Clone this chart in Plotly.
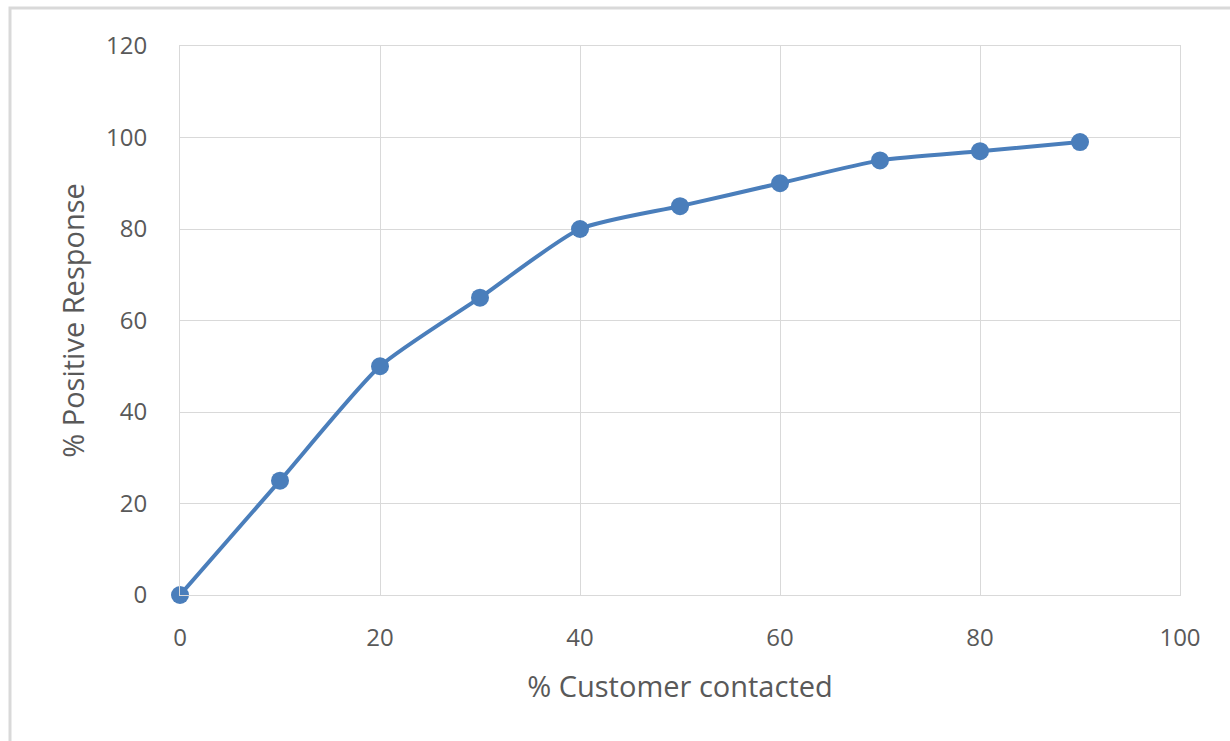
import plotly.graph_objects as go

# % of customers contacted vs % positive response (cumulative gains)
customers_contacted = [0, 10, 20, 30, 40, 50, 60, 70, 80, 90]
positive_response = [0, 25, 50, 65, 80, 85, 90, 95, 97, 99]

x_ticks = [0, 20, 40, 60, 80, 100]
y_ticks = [0, 20, 40, 60, 80, 100, 120]

W, H = 1230, 741
L, R, T, B = 180, 50, 46, 146

fig = go.Figure()
fig.add_trace(go.Scatter(
    x=customers_contacted,
    y=positive_response,
    mode="lines+markers",
    line=dict(color="#4A7EBB", width=4, shape="spline", smoothing=0.6),
    marker=dict(color="#4A7EBB", size=18),
    cliponaxis=False,
    showlegend=False,
))

axis_font = dict(family="Open Sans, Liberation Sans, sans-serif", size=24, color="#595959")
title_font = dict(family="Open Sans, Liberation Sans, sans-serif", size=29, color="#595959")

fig.update_xaxes(
    range=[0, 100], tickvals=x_ticks, ticks="",
    showgrid=True, gridcolor="#D9D9D9", gridwidth=1,
    zeroline=False, showline=True, linecolor="#D9D9D9", mirror=True,
    tickfont=axis_font, ticklabelstandoff=21,
    title=dict(text="% Customer contacted", font=title_font, standoff=24),
)
fig.update_yaxes(
    range=[0, 120], tickvals=y_ticks, ticks="",
    showgrid=True, gridcolor="#D9D9D9", gridwidth=1,
    zeroline=False, showline=True, linecolor="#D9D9D9", mirror=True,
    tickfont=axis_font, ticklabelstandoff=27,
    title=dict(text="% Positive Response", font=title_font, standoff=12),
)

# outer chart frame
pw, ph = W - L - R, H - T - B
fig.add_shape(
    type="rect", xref="paper", yref="paper",
    x0=(10 - L) / pw, x1=(W + 20 - L) / pw,
    y0=(H - B - (H + 20)) / ph, y1=(H - B - 8) / ph,
    line=dict(color="#D9D9D9", width=3), fillcolor="rgba(0,0,0,0)",
    layer="below",
)

fig.update_layout(
    width=W, height=H,
    margin=dict(l=L, r=R, t=T, b=B),
    paper_bgcolor="white", plot_bgcolor="white",
)

fig.write_html("out.html")
